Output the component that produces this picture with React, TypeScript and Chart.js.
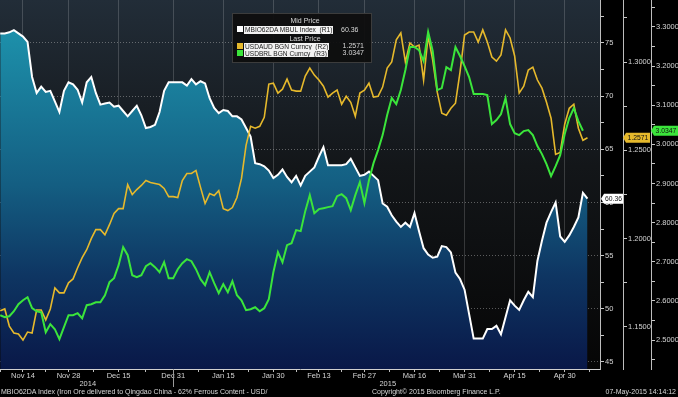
import React, { useEffect, useRef } from 'react';
import { Chart, registerables } from 'chart.js';

Chart.register(...registerables);

// ---------- data ----------
const START_DATE = '2014-11-07';
const END_DATE = '2015-05-07';

const X_TICK_DATES = [
  '2014-11-14', '2014-11-28', '2014-12-15', '2014-12-31', '2015-01-15', '2015-01-30',
  '2015-02-13', '2015-02-27', '2015-03-16', '2015-03-31', '2015-04-15', '2015-04-30',
];
const X_TICK_LABELS = [
  'Nov 14', 'Nov 28', 'Dec 15', 'Dec 31', 'Jan 15', 'Jan 30',
  'Feb 13', 'Feb 27', 'Mar 16', 'Mar 31', 'Apr 15', 'Apr 30',
];
const YEAR_LABELS = ['2014', '2015'];
const YEAR_END_DATE = '2014-12-31';

// MBIO62DA MBUL Index (R1)
const IRON_ORE = [
  75.9, 75.9, 76.0, 76.2, 75.9, 75.6, 75.1, 71.8, 70.3, 70.9,
  70.4, 70.5, 69.5, 68.5, 70.5, 71.3, 71.1, 70.6, 69.4, 71.3,
  71.8, 70.3, 69.2, 69.3, 69.4, 69.0, 69.1, 68.6, 68.1, 68.6,
  69.1, 68.2, 67.0, 67.1, 67.3, 68.5, 70.5, 71.3, 71.3, 71.3,
  71.3, 71.0, 71.6, 71.1, 71.4, 71.2, 69.8, 68.9, 68.4, 68.7,
  68.6, 68.1, 68.1, 67.8, 67.0, 66.2, 63.7, 63.6, 63.4, 63.0,
  62.3, 62.6, 63.1, 62.4, 61.9, 62.5, 61.6, 62.5, 62.9, 63.3,
  64.3, 65.2, 63.5, 63.5, 63.5, 63.5, 63.6, 64.1, 63.3, 62.5,
  62.6, 62.9, 62.5, 62.1, 59.9, 59.6, 58.8, 58.2, 57.7, 58.1,
  57.7, 59.0, 57.3, 55.7, 55.1, 54.8, 54.9, 55.9, 55.8, 55.3,
  53.4, 52.8, 51.8, 49.5, 47.2, 47.2, 47.2, 48.1, 48.1, 48.4,
  47.6, 49.2, 50.8, 50.3, 49.9, 50.8, 51.6, 51.1, 54.5, 56.4,
  58.1, 59.1, 60.0, 56.8, 56.3, 56.9, 57.7, 58.6, 60.9, 60.36,
];

// USDAUD BGN Curncy (R2)
const USDAUD = [
  1.1591, 1.1602, 1.1505, 1.1466, 1.1460, 1.1426, 1.1471, 1.1466, 1.1596, 1.1596,
  1.1540, 1.1602, 1.1721, 1.1693, 1.1693, 1.1750, 1.1772, 1.1835, 1.1892, 1.1937,
  1.2000, 1.2051, 1.2051, 1.2022, 1.2079, 1.2142, 1.2170, 1.2170, 1.2306, 1.2250,
  1.2278, 1.2301, 1.2329, 1.2318, 1.2312, 1.2306, 1.2284, 1.2238, 1.2238, 1.2233,
  1.2329, 1.2369, 1.2369, 1.2386, 1.2290, 1.2199, 1.2255, 1.2244, 1.2272, 1.2170,
  1.2159, 1.2176, 1.2233, 1.2341, 1.2528, 1.2636, 1.2625, 1.2636, 1.2687, 1.2875,
  1.2880, 1.2824, 1.2846, 1.2903, 1.2841, 1.2835, 1.2835, 1.2920, 1.2966, 1.2926,
  1.2898, 1.2863, 1.2801, 1.2824, 1.2841, 1.2761, 1.2806, 1.2772, 1.2693, 1.2824,
  1.2841, 1.2880, 1.2801, 1.2806, 1.2858, 1.2966, 1.3000, 1.3125, 1.3164, 1.3000,
  1.3108, 1.3085, 1.3096, 1.2898, 1.3147, 1.3011, 1.2829, 1.2710, 1.2699, 1.2738,
  1.2767, 1.2943, 1.3153, 1.3170, 1.3170, 1.3113, 1.3182, 1.3113, 1.3028, 1.3005,
  1.3040, 1.3182, 1.3136, 1.3034, 1.2824, 1.2863, 1.2954, 1.2971, 1.2898, 1.2852,
  1.2772, 1.2682, 1.2477, 1.2488, 1.2648, 1.2738, 1.2761, 1.2625, 1.2557, 1.2571,
];

// USDBRL BGN Curncy (R3)
const USDBRL = [
  2.5634, 2.5583, 2.5608, 2.5736, 2.5915, 2.6017, 2.6094, 2.5813, 2.5736, 2.5710,
  2.5199, 2.5404, 2.5276, 2.5020, 2.5327, 2.5634, 2.5634, 2.5685, 2.5557, 2.5889,
  2.5915, 2.5966, 2.5966, 2.6145, 2.6478, 2.6580, 2.6913, 2.7373, 2.7168, 2.6657,
  2.6606, 2.6657, 2.6887, 2.6964, 2.6861, 2.6733, 2.6989, 2.6580, 2.6580, 2.6810,
  2.6964, 2.7066, 2.7015, 2.6810, 2.6554, 2.6401, 2.6733, 2.6452, 2.6196, 2.6427,
  2.6222, 2.6503, 2.6145, 2.6017, 2.5762, 2.5787, 2.5838, 2.5736, 2.5813, 2.6043,
  2.6733, 2.7245, 2.6989, 2.7424, 2.7475, 2.7808, 2.7782, 2.8294, 2.8703, 2.8242,
  2.8345, 2.8370, 2.8396, 2.8421, 2.8677, 2.8728, 2.8626, 2.8319, 2.8703, 2.9035,
  2.8498, 2.9086, 2.9521, 2.9854, 3.0237, 3.0749, 3.1184, 3.1030, 3.1388, 3.1900,
  3.2488, 3.2488, 3.2411, 3.2130, 3.2872, 3.2386, 3.1388, 3.1439, 3.1976, 3.1900,
  3.2488, 3.2258, 3.2002, 3.1721, 3.1286, 3.1286, 3.1286, 3.1260, 3.0519, 3.0621,
  3.0774, 3.1184, 3.0519, 3.0288, 3.0237, 3.0340, 3.0365, 3.0237, 2.9956, 2.9751,
  2.9496, 2.9189, 2.9444, 2.9726, 3.0263, 3.0672, 3.0928, 3.0595, 3.0347,
];

const R1_TICKS = [45, 50, 55, 60, 65, 70, 75];
const R2_TICKS = [1.15, 1.2, 1.25, 1.3];
const R3_TICKS = [2.5, 2.6, 2.7, 2.8, 2.9, 3.0, 3.1, 3.2, 3.3];

// ---------- helpers ----------
function businessDays(start: string, end: string): string[] {
  const out: string[] = [];
  const d = new Date(start + 'T00:00:00Z');
  const e = new Date(end + 'T00:00:00Z');
  while (d <= e) {
    const wd = d.getUTCDay();
    if (wd !== 0 && wd !== 6) out.push(d.toISOString().slice(0, 10));
    d.setUTCDate(d.getUTCDate() + 1);
  }
  return out;
}
const DATES = businessDays(START_DATE, END_DATE);
const X_MIN = -0.05;
const X_MAX = DATES.length - 1 + 2.75;
const X_MAJOR = X_TICK_DATES.map((d) => DATES.indexOf(d));
const YEAR_BOUNDARY = DATES.indexOf(YEAR_END_DATE);

const FONT = '"Liberation Sans", Arial, sans-serif';
const AXIS_TEXT = '#d4d4d4';
const WHITE = '#ffffff';
const GOLD = '#e6b92c';
const GREEN = '#3be53b';

const near = (a: number, b: number) => Math.abs(a - b) < 1e-7;

function withMinors(majors: number[], min: number, max: number) {
  const step = majors[1] - majors[0];
  const vals: number[] = [];
  for (const m of majors) vals.push(m);
  for (let i = 0; i < majors.length - 1; i++) vals.push((majors[i] + majors[i + 1]) / 2);
  const lo = majors[0] - step / 2;
  const hi = majors[majors.length - 1] + step / 2;
  if (lo >= min) vals.push(lo);
  if (hi <= max) vals.push(hi);
  return vals.sort((a, b) => a - b).map((value) => ({ value }));
}

function xTicks() {
  const vals: number[] = [...X_MAJOR];
  for (let i = 0; i < X_MAJOR.length - 1; i++) vals.push((X_MAJOR[i] + X_MAJOR[i + 1]) / 2);
  const step = X_MAJOR[X_MAJOR.length - 1] - X_MAJOR[X_MAJOR.length - 2];
  const after = X_MAJOR[X_MAJOR.length - 1] + step / 2;
  if (after < X_MAX) vals.push(after);
  const before = X_MAJOR[0] - (X_MAJOR[1] - X_MAJOR[0]) / 2;
  if (before > X_MIN) vals.push(before);
  return vals.sort((a, b) => a - b).map((value) => ({ value }));
}

function lastValue(arr: number[]) {
  for (let i = arr.length - 1; i >= 0; i--) if (arr[i] != null) return arr[i];
  return null;
}

function drawTag(ctx: CanvasRenderingContext2D, x0: number, x1: number, y: number, bg: string, text: string) {
  const h = 10;
  const tip = 3;
  ctx.save();
  ctx.beginPath();
  ctx.moveTo(x0, y);
  ctx.lineTo(x0 + tip, y - h / 2);
  ctx.lineTo(x1, y - h / 2);
  ctx.lineTo(x1, y + h / 2);
  ctx.lineTo(x0 + tip, y + h / 2);
  ctx.closePath();
  ctx.fillStyle = bg;
  ctx.fill();
  ctx.fillStyle = '#111';
  ctx.font = `6.8px ${FONT}`;
  ctx.textAlign = 'center';
  ctx.textBaseline = 'middle';
  ctx.fillText(text, (x0 + tip + x1) / 2, y + 0.5);
  ctx.restore();
}

const bgPlugin = {
  id: 'bbgBackground',
  beforeDraw(chart: any) {
    const { ctx, chartArea: a, width, height } = chart;
    ctx.save();
    ctx.fillStyle = '#000';
    ctx.fillRect(0, 0, width, height);
    const g = ctx.createLinearGradient(0, a.top, 0, a.bottom);
    g.addColorStop(0, '#222d38');
    g.addColorStop(0.45, '#131619');
    g.addColorStop(1, '#060606');
    ctx.fillStyle = g;
    ctx.fillRect(a.left, a.top, a.right - a.left, a.bottom - a.top);
    ctx.restore();
  },
  afterDraw(chart: any) {
    const { ctx, chartArea: a, scales } = chart;
    // year separator
    const xs = scales.x;
    const sx = Math.round(xs.getPixelForValue(YEAR_BOUNDARY)) + 0.5;
    ctx.save();
    ctx.strokeStyle = '#9a9a9a';
    ctx.lineWidth = 1;
    ctx.beginPath();
    ctx.moveTo(sx, a.bottom);
    ctx.lineTo(sx, a.bottom + 18);
    ctx.stroke();
    ctx.restore();
    // last-value tags
    const w = lastValue(IRON_ORE) as number;
    const au = lastValue(USDAUD) as number;
    const br = lastValue(USDBRL) as number;
    const y1 = scales.y1, y2 = scales.y2, y3 = scales.y3;
    drawTag(ctx, y1.left + 1, y1.right, y1.getPixelForValue(w), WHITE, w.toFixed(2));
    drawTag(ctx, y2.left, y2.right - 1, y2.getPixelForValue(au), GOLD, au.toFixed(4));
    drawTag(ctx, y3.left, y3.right, y3.getPixelForValue(br), GREEN, br.toFixed(4));
  },
};

const R1_MIN = 44.34, R1_MAX = 79.04;
const R2_MIN = 1.1262, R2_MAX = 1.3351;
const R3_MIN = 2.4259, R3_MAX = 3.369;

function yAxis(majors: number[], min: number, max: number, weight: number, width: number, digits: number, onArea: boolean) {
  return {
    type: 'linear',
    position: 'right',
    weight,
    min,
    max,
    afterBuildTicks: (s: any) => { s.ticks = withMinors(majors, min, max); },
    afterFit: (s: any) => { s.width = width; s.paddingTop = 0; s.paddingBottom = 0; },
    border: { display: true, color: '#bdbdbd', width: 1, dash: [1, 2] },
    grid: {
      drawOnChartArea: onArea,
      drawTicks: true,
      tickLength: 4,
      tickColor: '#c8c8c8',
      tickWidth: 1,
      lineWidth: 1,
      color: (c: any) => (c.tick && majors.some((m) => near(m, c.tick.value)) ? 'rgba(200,200,200,0.42)' : 'rgba(0,0,0,0)'),
    },
    ticks: {
      padding: 1,
      color: AXIS_TEXT,
      font: { family: FONT, size: 7.5, lineHeight: 1 },
      autoSkip: false,
      callback: (v: number) => (majors.some((m) => near(m, v)) ? (digits ? v.toFixed(digits) : String(v)) : ''),
    },
  };
}

export default function App() {
  const ref = useRef<HTMLCanvasElement | null>(null);

  useEffect(() => {
    document.body.style.margin = '0';
    document.body.style.background = '#000';
    if (!ref.current) return;
    const fillGradient = (c: any) => {
      const { chart } = c;
      const a = chart.chartArea;
      if (!a) return 'rgba(20,90,130,0.8)';
      const g = chart.ctx.createLinearGradient(0, a.top, 0, a.bottom);
      g.addColorStop(0, '#2099b2');
      g.addColorStop(0.12, '#1c8ca7');
      g.addColorStop(0.5, '#145e82');
      g.addColorStop(0.75, '#0e3562');
      g.addColorStop(1, '#091848');
      return g;
    };
    const chart = new Chart(ref.current, {
      type: 'line',
      data: {
        datasets: [
          {
            label: 'USDBRL BGN Curncy (R3)',
            data: USDBRL.map((y, i) => ({ x: i, y })),
            yAxisID: 'y3',
            borderColor: GREEN,
            borderWidth: 2,
            pointRadius: 0,
            fill: false,
            tension: 0,
            order: 1,
          },
          {
            label: 'USDAUD BGN Curncy (R2)',
            data: USDAUD.map((y, i) => ({ x: i, y })),
            yAxisID: 'y2',
            borderColor: GOLD,
            borderWidth: 1.6,
            pointRadius: 0,
            fill: false,
            tension: 0,
            order: 2,
          },
          {
            label: 'MBIO62DA MBUL Index (R1)',
            data: IRON_ORE.map((y, i) => ({ x: i, y })),
            yAxisID: 'y1',
            borderColor: WHITE,
            borderWidth: 2,
            pointRadius: 0,
            fill: 'start',
            backgroundColor: fillGradient,
            tension: 0,
            order: 3,
          },
        ],
      },
      options: {
        responsive: true,
        maintainAspectRatio: false,
        animation: false,
        events: [],
        layout: { padding: { top: 0, left: 0, right: 0, bottom: 7 } },
        plugins: { legend: { display: false }, tooltip: { enabled: false }, title: { display: false } },
        scales: {
          x: {
            type: 'linear',
            position: 'bottom',
            weight: 0,
            min: X_MIN,
            max: X_MAX,
            afterBuildTicks: (s: any) => { s.ticks = xTicks(); },
            afterFit: (s: any) => { s.height = 11; s.paddingLeft = 0; s.paddingRight = 0; },
            border: { display: true, color: '#cfcfcf', width: 1 },
            grid: {
              drawOnChartArea: true,
              drawTicks: true,
              tickLength: 3,
              tickColor: '#bdbdbd',
              lineWidth: 1,
              color: (c: any) => (c.tick && X_MAJOR.includes(c.tick.value) ? 'rgba(255,255,255,0.17)' : 'rgba(0,0,0,0)'),
            },
            ticks: {
              padding: 0,
              maxRotation: 0,
              autoSkip: false,
              color: AXIS_TEXT,
              font: { family: FONT, size: 7.5, lineHeight: 1 },
              callback: (v: number) => {
                const k = X_MAJOR.indexOf(v);
                return k >= 0 ? X_TICK_LABELS[k] : '';
              },
            },
          },
          x2: {
            type: 'linear',
            position: 'bottom',
            weight: 1,
            min: X_MIN,
            max: X_MAX,
            afterBuildTicks: (s: any) => {
              s.ticks = [
                { value: (X_MIN + YEAR_BOUNDARY + 0.5) / 2 },
                { value: (YEAR_BOUNDARY + 0.5 + X_MAX) / 2 },
              ];
            },
            afterFit: (s: any) => { s.height = 10; s.paddingLeft = 0; s.paddingRight = 0; },
            border: { display: false },
            grid: { display: false, drawTicks: false },
            ticks: {
              padding: 0,
              maxRotation: 0,
              autoSkip: false,
              color: AXIS_TEXT,
              font: { family: FONT, size: 7.5, lineHeight: 1 },
              callback: (_v: number, i: number) => YEAR_LABELS[i],
            },
          },
          y1: yAxis(R1_TICKS, R1_MIN, R1_MAX, 0, 23, 0, true),
          y2: yAxis(R2_TICKS, R2_MIN, R2_MAX, 1, 28, 4, false),
          y3: yAxis(R3_TICKS, R3_MIN, R3_MAX, 2, 27, 4, false),
        },
      } as any,
      plugins: [bgPlugin as any],
    });
    return () => chart.destroy();
  }, []);

  const txt: React.CSSProperties = {
    position: 'absolute',
    fontFamily: FONT,
    fontSize: 7,
    lineHeight: '8px',
    color: '#d8d8d8',
    whiteSpace: 'pre',
  };
  const lab: React.CSSProperties = {
    ...txt,
    background: '#f2f2f2',
    color: '#1a1a1a',
    height: 7,
    lineHeight: '7px',
    fontSize: 6.6,
    paddingLeft: 1,
    paddingRight: 1,
    boxSizing: 'border-box',
    overflow: 'hidden',
  };
  const sq = (color: string, top: number): React.CSSProperties => ({
    position: 'absolute', left: 237, top, width: 6, height: 6, background: color,
  });

  return (
    <div style={{ position: 'relative', width: 678, height: 397, background: '#000', overflow: 'hidden' }}>
      <canvas ref={ref} width={678} height={397} />
      <div style={{ position: 'absolute', left: 232, top: 13, width: 140, height: 50, background: 'rgba(14,14,14,0.94)', border: '1px solid #3c3c3c', boxSizing: 'border-box' }} />
      <div style={{ ...txt, left: 232, width: 146, top: 17, textAlign: 'center' }}>Mid Price</div>
      <div style={sq(WHITE, 26)} />
      <div style={{ ...lab, left: 244, top: 25.5, height: 8, lineHeight: '8px' }}>MBIO62DA MBUL Index  (R1)</div>
      <div style={{ ...txt, left: 341, top: 25.5 }}>60.36</div>
      <div style={{ ...txt, left: 232, width: 146, top: 34.5, textAlign: 'center' }}>Last Price</div>
      <div style={sq(GOLD, 43)} />
      <div style={{ ...lab, left: 244, top: 42.5 }}>USDAUD BGN Curncy  (R2)</div>
      <div style={{ ...txt, left: 330, width: 34, top: 42, textAlign: 'right' }}>1.2571</div>
      <div style={sq(GREEN, 50)} />
      <div style={{ ...lab, left: 244, top: 49.5 }}>USDBRL BGN Curncy  (R3)</div>
      <div style={{ ...txt, left: 330, width: 34, top: 49, textAlign: 'right' }}>3.0347</div>

      <div style={{ ...txt, left: 1, top: 388 }}>MBIO62DA Index (Iron Ore delivered to Qingdao China - 62% Ferrous Content - USD/</div>
      <div style={{ ...txt, left: 372, top: 388 }}>Copyright© 2015 Bloomberg Finance L.P.</div>
      <div style={{ ...txt, right: 2, top: 388 }}>07-May-2015 14:14:12</div>
    </div>
  );
}
